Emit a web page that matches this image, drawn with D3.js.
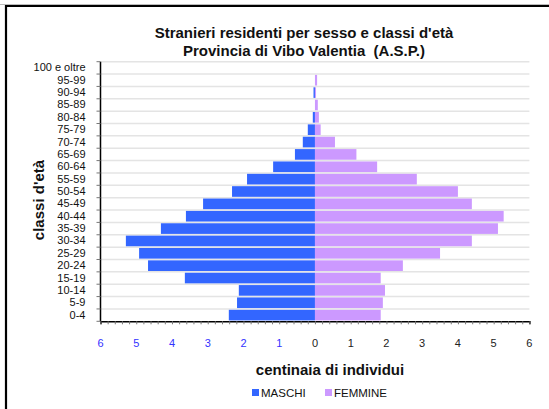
<!DOCTYPE html>
<html>
<head>
<meta charset="utf-8">
<script src="https://cdn.jsdelivr.net/npm/d3@7"></script>
<style>
html,body{margin:0;padding:0;background:#fff;}
svg{display:block;font-family:"Liberation Sans",Arial,sans-serif;}
.pre{white-space:pre;}
</style>
</head>
<body>
<svg id="chart" width="549" height="409"></svg>
<script>
const categories = ["0-4","5-9","10-14","15-19","20-24","25-29","30-34","35-39","40-44","45-49","50-54","55-59","60-64","65-69","70-74","75-79","80-84","85-89","90-94","95-99","100 e oltre"];
const maschi = [2.41,2.18,2.13,3.64,4.67,4.92,5.29,4.31,3.61,3.13,2.32,1.90,1.17,0.56,0.34,0.20,0.06,0,0.04,0,0];
const femmine = [1.84,1.90,1.96,1.84,2.46,3.50,4.39,5.12,5.28,4.39,4.00,2.85,1.74,1.16,0.56,0.16,0.11,0.08,0.03,0.06,0];
const xTicks = [-6,-5,-4,-3,-2,-1,0,1,2,3,4,5,6];
const titleLines = ["Stranieri residenti per sesso e classi d'età","Provincia di Vibo Valentia  (A.S.P.)"];
const seriesNames = ["MASCHI","FEMMINE"];
const colors = {m:"#3366ff", f:"#cc99ff"};

(function(){
const svg = d3.select("#chart");
const pL = 100.5, pR = 529.4, pT = 61.7, pB = 321.3;

// frame
svg.append("line").attr("x1",0).attr("x2",549).attr("y1",4.5).attr("y2",4.5).attr("stroke","#bbb").attr("stroke-width",1);
svg.append("line").attr("x1",5).attr("x2",549).attr("y1",6).attr("y2",6).attr("stroke","#000").attr("stroke-width",2);
svg.append("line").attr("x1",6).attr("x2",6).attr("y1",5).attr("y2",409).attr("stroke","#000").attr("stroke-width",2.2);

const x = d3.scaleLinear().domain([-6,6]).range([pL,pR]);
const y = d3.scaleBand().domain(categories.slice().reverse()).range([pT,pB]).paddingInner(0.14).paddingOuter(0.07);
const step = y.step();

// gridlines at band boundaries
const bounds = d3.range(categories.length).map(i => pT + i*step);
svg.append("g").selectAll("line").data(bounds).join("line")
  .attr("x1",pL).attr("x2",pR).attr("y1",d=>d).attr("y2",d=>d)
  .attr("stroke","#e4e4e4").attr("stroke-width",1.5);

// bars
svg.append("g").selectAll("rect").data(categories.map((c,i)=>({c,v:maschi[i]}))).join("rect")
  .attr("x",d=>x(-d.v)).attr("width",d=>x(0)-x(-d.v))
  .attr("y",d=>y(d.c)).attr("height",y.bandwidth()).attr("fill",colors.m);
svg.append("g").selectAll("rect").data(categories.map((c,i)=>({c,v:femmine[i]}))).join("rect")
  .attr("x",x(0)).attr("width",d=>x(d.v)-x(0))
  .attr("y",d=>y(d.c)).attr("height",y.bandwidth()).attr("fill",colors.f);

// x axis
const minor = d3.range(-30,31).map(d=>d/5);
const xAxis = d3.axisBottom(x).tickValues(minor).tickSize(3).tickFormat("");
const gx = svg.append("g").attr("transform",`translate(0,${pB})`).call(xAxis);
gx.select(".domain").attr("stroke","#000").attr("stroke-width",1.5);
gx.selectAll(".tick line").attr("stroke","#777");
svg.append("g").selectAll("text").data(xTicks).join("text")
  .attr("x",d=>x(d)).attr("y",347).attr("text-anchor","middle")
  .attr("font-size",11).attr("fill",d=>d<0?"#3333ff":"#222")
  .text(d=>Math.abs(d));

// y axis
const yAxis = d3.axisLeft(y).tickSize(0).tickPadding(15);
const gy = svg.append("g").attr("transform",`translate(${pL},0)`).call(yAxis);
gy.select(".domain").remove();
gy.selectAll(".tick text").attr("font-size",11).attr("fill","#111").attr("font-family","Liberation Sans, Arial, sans-serif");
svg.append("line").attr("x1",pL).attr("x2",pL).attr("y1",pT).attr("y2",pB).attr("stroke","#000").attr("stroke-width",1.5);
svg.append("g").selectAll("line").data(bounds.concat([pB])).join("line")
  .attr("x1",pL-4).attr("x2",pL).attr("y1",d=>d).attr("y2",d=>d).attr("stroke","#777");

// titles
svg.append("g").selectAll("text").data(titleLines).join("text")
  .attr("class","pre")
  .attr("x",304).attr("y",(d,i)=>38+i*17.5).attr("text-anchor","middle")
  .attr("font-size",15).attr("font-weight","bold").attr("fill","#111").text(d=>d);

svg.append("text").attr("transform","translate(43.5,200) rotate(-90)").attr("text-anchor","middle")
  .attr("font-size",15).attr("font-weight","bold").attr("fill","#111").text("classi d'età");

svg.append("text").attr("x",330).attr("y",375).attr("text-anchor","middle")
  .attr("font-size",15).attr("font-weight","bold").attr("fill","#111").text("centinaia di individui");

// legend
const legendX = [252, 325];
const lg = svg.append("g").selectAll("g").data(seriesNames).join("g")
  .attr("transform",(d,i)=>`translate(${legendX[i]},389)`);
lg.append("rect").attr("width",7).attr("height",7).attr("fill",(d,i)=>i===0?colors.m:colors.f);
lg.append("text").attr("x",9).attr("y",8).attr("font-size",11.5).attr("fill","#111").text(d=>d);
})();
</script>
</body>
</html>
